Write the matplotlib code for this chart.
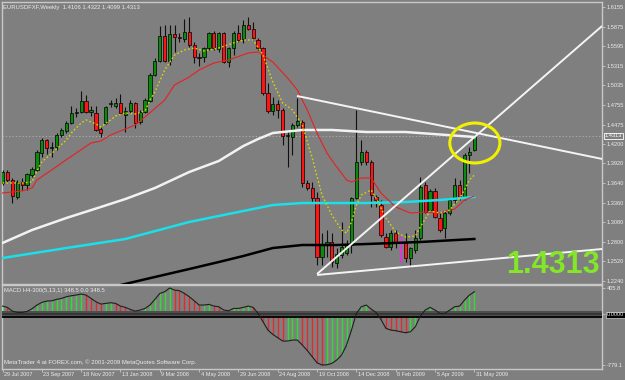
import numpy as np
import matplotlib
matplotlib.use("Agg")
import matplotlib.pyplot as plt
from matplotlib import font_manager as fm
from matplotlib.patches import Ellipse
from matplotlib.transforms import blended_transform_factory as blend

# narrow font if there is one, otherwise plain Arial metrics at a smaller size
installed = {f.name for f in fm.fontManager.ttflist}
if 'Liberation Sans Narrow' in installed:
    plt.rcParams['font.family'] = ['Liberation Sans Narrow', 'DejaVu Sans']
    fs = 1.0
else:
    plt.rcParams['font.family'] = ['Liberation Sans', 'DejaVu Sans']
    fs = 0.82

# weekly EURUSD bars, 29 Jul 2007 .. 31 May 2009
opens = [1.3641, 1.3798, 1.3684, 1.3441, 1.3655, 1.3612, 1.3755, 1.3826, 1.4069, 1.4255,
         1.4141, 1.4155, 1.4326, 1.4384, 1.4498, 1.4641, 1.4655, 1.4812, 1.4655, 1.4641,
         1.4412, 1.4498, 1.4770, 1.4741, 1.4784, 1.4612, 1.4669, 1.4784, 1.4512, 1.4655,
         1.4812, 1.5184, 1.5384, 1.5741, 1.5384, 1.5769, 1.5726, 1.5698, 1.5798, 1.5612,
         1.5441, 1.5441, 1.5569, 1.5784, 1.5555, 1.5784, 1.5369, 1.5569, 1.5784, 1.5698,
         1.5898, 1.5841, 1.5684, 1.5569, 1.4926, 1.4669, 1.4769, 1.4684, 1.4312, 1.4298,
         1.4469, 1.4512, 1.3641, 1.3569, 1.3426, 1.2584, 1.2755, 1.2798, 1.2498, 1.2612,
         1.2641, 1.2755, 1.3426, 1.3941, 1.4084, 1.3941, 1.3440, 1.3326, 1.2869, 1.2726,
         1.2926, 1.2784, 1.2784, 1.2569, 1.2684, 1.2855, 1.3612, 1.3255, 1.3526, 1.3141,
         1.2998, 1.3212, 1.3398, 1.3612, 1.3426, 1.4041, 1.4106]
highs = [1.3826, 1.3826, 1.3712, 1.3684, 1.3712, 1.3784, 1.3869, 1.4112, 1.4284, 1.4269,
         1.4226, 1.4355, 1.4426, 1.4526, 1.4741, 1.4712, 1.4955, 1.4898, 1.4741, 1.4741,
         1.4441, 1.4741, 1.4826, 1.4855, 1.4912, 1.4726, 1.4826, 1.4798, 1.4684, 1.4855,
         1.5212, 1.5426, 1.5884, 1.5898, 1.5898, 1.5898, 1.5784, 1.5984, 1.6012, 1.5655,
         1.5498, 1.5584, 1.5798, 1.5812, 1.5798, 1.5798, 1.5584, 1.5812, 1.5898, 1.5969,
         1.6012, 1.5941, 1.5712, 1.5584, 1.5069, 1.4869, 1.4826, 1.4712, 1.4398, 1.4498,
         1.4855, 1.4541, 1.3684, 1.3655, 1.3512, 1.2926, 1.2969, 1.2926, 1.2712, 1.3084,
         1.2826, 1.3441, 1.4684, 1.4255, 1.4112, 1.3969, 1.3469, 1.3398, 1.2926, 1.2969,
         1.2969, 1.2869, 1.2926, 1.2726, 1.2969, 1.3726, 1.3655, 1.3555, 1.3569, 1.3212,
         1.3255, 1.3412, 1.3712, 1.3684, 1.4069, 1.4155, 1.4322]
lows = [1.3612, 1.3655, 1.3355, 1.3412, 1.3541, 1.3541, 1.3726, 1.3812, 1.4012, 1.4055,
        1.4012, 1.4112, 1.4298, 1.4355, 1.4484, 1.4584, 1.4641, 1.4641, 1.4598, 1.4384,
        1.4298, 1.4484, 1.4726, 1.4712, 1.4626, 1.4369, 1.4641, 1.4426, 1.4484, 1.4641,
        1.4798, 1.5169, 1.5369, 1.5369, 1.5326, 1.5512, 1.5655, 1.5655, 1.5584, 1.5355,
        1.5312, 1.5369, 1.5541, 1.5541, 1.5512, 1.5355, 1.5298, 1.5469, 1.5655, 1.5641,
        1.5826, 1.5684, 1.5541, 1.4898, 1.4641, 1.4612, 1.4569, 1.4184, 1.3869, 1.4041,
        1.4441, 1.3584, 1.3541, 1.3355, 1.2469, 1.2469, 1.2584, 1.2441, 1.2426, 1.2569,
        1.2612, 1.2641, 1.3412, 1.3898, 1.3898, 1.3298, 1.3298, 1.2869, 1.2712, 1.2684,
        1.2712, 1.2498, 1.2512, 1.2441, 1.2641, 1.2826, 1.3212, 1.3226, 1.3141, 1.2941,
        1.2855, 1.3184, 1.3355, 1.3398, 1.3398, 1.3784, 1.4099]
closes = [1.3798, 1.3684, 1.3455, 1.3655, 1.3612, 1.3769, 1.3841, 1.4084, 1.4255, 1.4141,
          1.4155, 1.4326, 1.4398, 1.4498, 1.4641, 1.4655, 1.4812, 1.4655, 1.4684, 1.4398,
          1.4355, 1.4726, 1.4784, 1.4784, 1.4641, 1.4669, 1.4784, 1.4498, 1.4655, 1.4826,
          1.5184, 1.5384, 1.5741, 1.5384, 1.5769, 1.5726, 1.5712, 1.5798, 1.5612, 1.5441,
          1.5426, 1.5569, 1.5784, 1.5569, 1.5784, 1.5369, 1.5569, 1.5784, 1.5684, 1.5898,
          1.5841, 1.5712, 1.5569, 1.4926, 1.4669, 1.4769, 1.4684, 1.4312, 1.4326, 1.4469,
          1.4526, 1.3641, 1.3569, 1.3426, 1.2584, 1.2755, 1.2798, 1.2512, 1.2626, 1.2726,
          1.2755, 1.3426, 1.3941, 1.4084, 1.3941, 1.3469, 1.3398, 1.2898, 1.2726, 1.2926,
          1.2784, 1.2641, 1.2569, 1.2712, 1.2855, 1.3584, 1.3226, 1.3526, 1.3155, 1.2969,
          1.3212, 1.3398, 1.3612, 1.3426, 1.4041, 1.4084, 1.4313]
marked_bar = 81  # the magenta bar

# MACD H4-300(5,13,1) per bar
macd = [128, 108, 51, 31, 31, 46, 87, 144, 185, 205,
        210, 231, 246, 272, 287, 298, 313, 298, 246, 195,
        159, 169, 180, 169, 128, 108, 77, 51, 67, 92,
        144, 231, 323, 349, 405.8, 374, 364, 323, 272, 210,
        144, 144, 154, 128, 118, 67, 56, 92, 92, 108,
        128, 108, 15, -113, -241, -308, -359, -410, -410, -395,
        -395, -472, -555, -650, -745, -779.1, -775, -754, -703, -626,
        -472, -241, 15, 118, 144, 82, 31, -77, -215, -241,
        -251, -267, -282, -267, -190, -26, 67, 108, 67, 15,
        15, 67, 118, 128, 221, 298, 348.5]

# moving averages, sampled (bar index, price)
yellow_bar = [0, 4, 6, 7, 8, 11, 13, 14, 16, 17, 19, 20, 22, 23, 25, 27, 29, 30, 31, 33,
              35, 37, 39, 41, 44, 47, 49, 51, 53, 55, 57, 59, 61, 63, 65, 67, 69, 70, 71, 72,
              73, 75, 76, 78, 80, 82, 84, 85, 87, 89, 91, 93, 94, 95, 96]
yellow_px = [1.3641, 1.3641, 1.3655, 1.3812, 1.3941, 1.4126, 1.4255, 1.4355, 1.4498, 1.4541,
             1.4484, 1.4441, 1.4541, 1.4598, 1.4641, 1.4626, 1.4669, 1.4826, 1.4941, 1.5255,
             1.5469, 1.5541, 1.5569, 1.5526, 1.5569, 1.5641, 1.5684, 1.5684, 1.5469, 1.5084,
             1.4784, 1.4684, 1.4469, 1.4000, 1.3469, 1.3184, 1.2969, 1.2926, 1.3084, 1.3326,
             1.3469, 1.3541, 1.3426, 1.3141, 1.2941, 1.2869, 1.2884, 1.3012, 1.3241, 1.3212,
             1.3255, 1.3426, 1.3541, 1.3684, 1.3755]
red_bar = [0, 4, 6, 7, 10, 12, 15, 18, 20, 22, 24, 25, 27, 29, 33, 35, 38, 40, 43, 46,
           50, 52, 55, 58, 60, 62, 64, 66, 68, 70, 71, 73, 75, 77, 80, 83, 86, 89, 92, 94, 96]
red_px = [1.3498, 1.3527, 1.3569, 1.3684, 1.3826, 1.3926, 1.4069, 1.4212, 1.4241, 1.4326,
          1.4384, 1.4412, 1.4469, 1.4584, 1.4826, 1.5041, 1.5155, 1.5255, 1.5355, 1.5398,
          1.5498, 1.5512, 1.5369, 1.5141, 1.4969, 1.4684, 1.4355, 1.4069, 1.3869, 1.3684,
          1.3655, 1.3712, 1.3712, 1.3498, 1.3298, 1.3212, 1.3226, 1.3212, 1.3269, 1.3398,
          1.3455]
white_bar = [0, 6, 13, 20, 25, 31, 38, 44, 49, 52, 55, 61, 67, 74, 82, 96]
white_px = [1.2784, 1.2969, 1.3141, 1.3298, 1.3412, 1.3569, 1.3798, 1.3955, 1.4169, 1.4269,
            1.4355, 1.4398, 1.4398, 1.4369, 1.4369, 1.4298]
cyan_bar = [0, 13, 25, 38, 49, 55, 61, 74, 82, 89, 96]
cyan_px = [1.2569, 1.2712, 1.2841, 1.3084, 1.3241, 1.3326, 1.3355, 1.3355, 1.3369, 1.3398,
           1.3441]
black_bar = [22, 31, 38, 44, 49, 55, 61, 68, 74, 85, 96]
black_px = [1.2150, 1.2298, 1.2412, 1.2512, 1.2598, 1.2712, 1.2755, 1.2755, 1.2769, 1.2798,
            1.2841]

# hand drawn trend lines (bar, price) end points
trend_down = ([59.9, 122.0], [1.4884, 1.3984])
trend_up = ([64.0, 122.0], [1.2341, 1.5884])
trend_base = ([64.0, 122.0], [1.2327, 1.2698])

date_ticks = [0, 8, 16, 24, 32, 40, 48, 56, 64, 72, 80, 88, 96]
date_labels = ['29 Jul 2007', '23 Sep 2007', '18 Nov 2007', '13 Jan 2008', '9 Mar 2008',
               '4 May 2008', '29 Jun 2008', '24 Aug 2008', '19 Oct 2008', '14 Dec 2008',
               '8 Feb 2009', '5 Apr 2009', '31 May 2009']
price_ticks = [1.6155, 1.5875, 1.5595, 1.5315, 1.5035, 1.4755, 1.4475, 1.4200, 1.3920,
               1.3640, 1.3360, 1.3080, 1.2800, 1.2520, 1.2240]

W, H = 625, 380
BG = '#7f7f7f'
LIGHT = '#ececec'
FRAME = '#c8c8c8'

fig = plt.figure(figsize=(W / 100, H / 100), dpi=100, facecolor=BG)


def px_axes(x0, y0, x1, y1):
    return fig.add_axes([x0 / W, 1 - y1 / H, (x1 - x0) / W, (y1 - y0) / H], facecolor=BG)


ax = px_axes(2, 2, 602, 284)
ax2 = px_axes(2, 285, 602, 369)
xlim = (-0.102, 121.97)
ax.set_xlim(*xlim)
ax2.set_xlim(*xlim)
ax.set_ylim(1.2198, 1.6226)
ax2.set_ylim(-840.3, 452.5)

for a in (ax, ax2):
    for s in a.spines.values():
        s.set_color(FRAME)
        s.set_linewidth(1.0)

# candles
x = np.arange(len(closes))
o = np.array(opens)
c = np.array(closes)
normal = x != marked_bar
ax.vlines(x[normal], np.array(lows)[normal], np.array(highs)[normal],
          color='#101010', lw=0.8, zorder=3)
bottoms = np.minimum(o, c)
heights = np.maximum(np.abs(c - o), 0.0003)
cols = np.where(c >= o, '#0b8a0b', '#ff1414')
ax.bar(x[normal], heights[normal], 0.66, bottoms[normal], color=cols[normal],
       edgecolor='black', linewidth=0.5, zorder=4)
ax.vlines(marked_bar, lows[marked_bar], highs[marked_bar], color='#d040d0', lw=1.6, zorder=4)

# moving averages
ax.plot(black_bar, black_px, color='black', lw=1.8, zorder=5)
ax.plot(cyan_bar, cyan_px, color='#19e0ea', lw=1.8, zorder=5)
ax.plot(white_bar, white_px, color='#f2f2f2', lw=1.8, zorder=5)
ax.plot(red_bar, red_px, color='#e82020', lw=0.8, zorder=5)
ax.plot(yellow_bar, yellow_px, color='#d8d800', lw=1.0, ls=(0, (1.2, 1.6)), zorder=6)

# current price line
ax.axhline(closes[-1], color='#b4b4b4', lw=0.6, ls=(0, (1.5, 2.5)), zorder=2)

# trend lines
for xs, ys in (trend_down, trend_up, trend_base):
    ax.plot(xs, ys, color='#f4f4f4', lw=1.4, zorder=7, solid_capstyle='butt')

ax.add_patch(Ellipse((96.1, 1.4212), 10.2, 0.0571, fill=False, edgecolor='#f0f000',
                     lw=2.2, zorder=8))

ax.text(0.9967, 0.039, f'{closes[-1]:.4f}', transform=ax.transAxes, ha='right',
        va='baseline', fontsize=22, fontweight='bold', color='#84e628',
        family=['Liberation Sans', 'DejaVu Sans'], zorder=9)

ax.text(0.002, 0.99, f'EURUSDFXF,Weekly  {opens[-1]:.4f} {highs[-1]:.4f} '
        f'{lows[-1]:.4f} {closes[-1]:.4f}', transform=ax.transAxes, ha='left', va='top',
        fontsize=5.2 * fs, color=LIGHT)

# right price scale
ax.yaxis.tick_right()
ax.set_yticks(price_ticks)
ax.set_yticklabels([f'{p:.4f}' for p in price_ticks])
ax.tick_params(axis='y', length=2.2, width=0.6, colors=FRAME, labelcolor=LIGHT,
               labelsize=5.0 * fs, pad=1)
ax.set_xticks([])
ax.text(1.005, closes[-1], f'{closes[-1]:.4f}', transform=blend(ax.transAxes, ax.transData),
        ha='left', va='center', fontsize=4.9 * fs, color='white', clip_on=False,
        bbox=dict(boxstyle='square,pad=0.15', facecolor=BG, edgecolor='white', lw=0.6))

# MACD sub window
prev = np.concatenate([[macd[0] - 1], macd[:-1]])
hcols = np.where(np.array(macd) >= prev, '#2ee02e', '#e42a2a')
ax2.vlines(x, 0, macd, colors=hcols, lw=1.0, zorder=2)
ax2.axhspan(-25, 52, color='#4e4e4e', zorder=3, lw=0)
ax2.axhline(29, color='#303030', lw=0.6, zorder=3)
ax2.axhline(0, color='#383838', lw=0.6, zorder=3)
ax2.axhline(-46, color='black', lw=1.3, zorder=3)
ax2.plot(x, macd, color='#1e1e1e', lw=0.8, zorder=4)

ax2.text(0.004, 0.93, f'MACD H4-300(5,13,1) {macd[-1]:.1f} 0.0 {macd[-1]:.1f}',
         transform=ax2.transAxes, ha='left', va='center', fontsize=5.2 * fs, color=LIGHT)
ax2.text(0.004, 0.08, 'MetaTrader 4 at FOREX.com, \u00a9 2001-2009 MetaQuotes Software Corp.',
         transform=ax2.transAxes, ha='left', va='center', fontsize=5.3 * fs, color=LIGHT)

ax2.yaxis.tick_right()
ax2.set_yticks([405.8, 0, -779.1])
ylabs = ax2.set_yticklabels(['405.8', '0.0000', '-779.1'])
ylabs[1].set_bbox(dict(boxstyle='square,pad=0.15', facecolor='black', edgecolor='#d0d0d0',
                       lw=0.5))
ax2.tick_params(axis='y', length=2.2, width=0.6, colors=FRAME, labelcolor=LIGHT,
                labelsize=5.0 * fs, pad=1)

ax2.set_xticks(date_ticks)
ax2.set_xticklabels([])
ax2.tick_params(axis='x', length=2.5, width=0.6, colors=FRAME, direction='out')
tr = blend(ax2.transData, ax2.transAxes)
for t, lab in zip(date_ticks, date_labels):
    ax2.text(t + 0.3, -0.03, lab, transform=tr, ha='left', va='top', fontsize=4.8 * fs,
             color=LIGHT, clip_on=False)

fig.savefig('out.png', dpi=100, facecolor=BG)
